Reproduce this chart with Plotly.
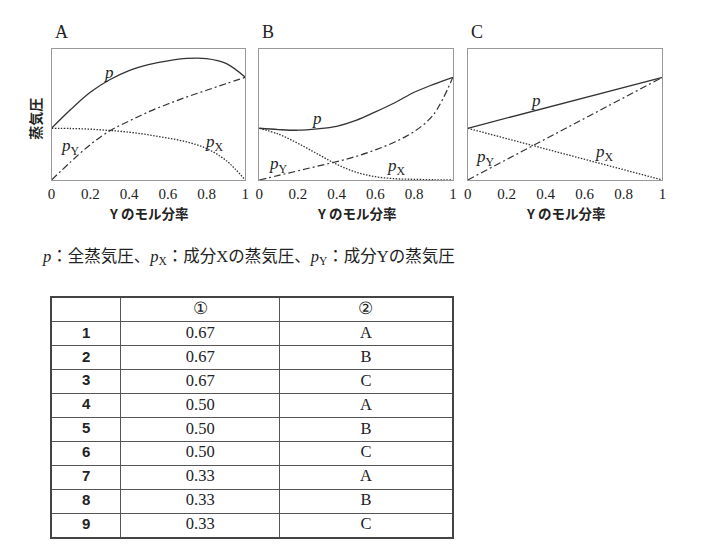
import plotly.graph_objects as go

# ---- data ----
x_grid = [0, 0.1, 0.2, 0.3, 0.4, 0.5, 0.6, 0.7, 0.8, 0.9, 1.0]

p_A  = [0.395, 0.54, 0.67, 0.765, 0.835, 0.88, 0.91, 0.928, 0.927, 0.89, 0.784]
pX_A = [0.395, 0.393, 0.388, 0.378, 0.365, 0.345, 0.32, 0.29, 0.24, 0.15, 0.0]
pY_A = [0.0, 0.14, 0.27, 0.375, 0.45, 0.52, 0.58, 0.635, 0.685, 0.735, 0.784]

p_B  = [0.395, 0.385, 0.38, 0.39, 0.41, 0.455, 0.52, 0.59, 0.67, 0.73, 0.784]
pX_B = [0.395, 0.35, 0.28, 0.20, 0.12, 0.06, 0.025, 0.01, 0.005, 0.002, 0.0]
pY_B = [0.0, 0.035, 0.07, 0.105, 0.14, 0.18, 0.23, 0.29, 0.37, 0.50, 0.784]

x_lin = [0, 1]
p_C  = [0.395, 0.784]
pX_C = [0.395, 0.0]
pY_C = [0.0, 0.784]

tick_vals = [0, 0.2, 0.4, 0.6, 0.8, 1]
tick_text = ["0", "0.2", "0.4", "0.6", "0.8", "1"]

panel_names = ["A", "B", "C"]

table_nums = ["1", "2", "3", "4", "5", "6", "7", "8", "9"]
table_col1 = ["0.67", "0.67", "0.67", "0.50", "0.50", "0.50", "0.33", "0.33", "0.33"]
table_col2 = ["A", "B", "C", "A", "B", "C", "A", "B", "C"]
table_header = ["", "①", "②"]

# ---- layout helpers (page body adds an 8px margin) ----
OFF = 8
W, H = 708 - OFF, 548 - OFF

def px(x):
    return (x - OFF) / W

def py(y):
    return 1 - (y - OFF) / H

boxes = [(48, 244), (258, 454), (469, 666)]
y_top, y_bot = 49, 180

fig = go.Figure()
serif = "Liberation Serif"
cjk = "Noto Sans CJK JP"
line_col = "#333333"
text_col = "#222222"

panels = [
    (x_grid, p_A, pX_A, pY_A, "spline"),
    (x_grid, p_B, pX_B, pY_B, "spline"),
    (x_lin, p_C, pX_C, pY_C, "linear"),
]

label_pos = [
    [(0.296, 0.817), (0.84, 0.28), (0.097, 0.25)],
    [(0.30, 0.466), (0.71, 0.10), (0.10, 0.115)],
    [(0.35, 0.61), (0.70, 0.206), (0.09, 0.17)],
]
label_txt = ["<i>p</i>", "<i>p</i><sub>X</sub>", "<i>p</i><sub>Y</sub>"]

for i, (xs, p, pX, pY, shape) in enumerate(panels):
    n = "" if i == 0 else str(i + 1)
    xa, ya = "x" + n, "y" + n
    fig.add_trace(go.Scatter(x=xs, y=p, mode="lines", xaxis=xa, yaxis=ya, hoverinfo="skip",
                             line=dict(color=line_col, width=1.3, shape=shape), showlegend=False))
    fig.add_trace(go.Scatter(x=xs, y=pX, mode="lines", xaxis=xa, yaxis=ya, hoverinfo="skip",
                             line=dict(color=line_col, width=1.3, shape=shape, dash="1.5px,1.5px"),
                             showlegend=False))
    fig.add_trace(go.Scatter(x=xs, y=pY, mode="lines", xaxis=xa, yaxis=ya, hoverinfo="skip",
                             line=dict(color=line_col, width=1.2, shape=shape, dash="7px,3px,2px,3px"),
                             showlegend=False))
    x0, x1 = boxes[i]
    axis_common = dict(showline=True, mirror=True, linecolor="#999999", linewidth=1,
                       showgrid=False, zeroline=False, ticks="")
    fig.layout["xaxis" + n] = dict(domain=[px(x0), px(x1)], range=[0, 1], anchor=ya,
                                   tickvals=tick_vals, ticktext=tick_text,
                                   tickfont=dict(family=serif, size=15, color=text_col),
                                   **axis_common)
    fig.layout["yaxis" + n] = dict(domain=[py(y_bot), py(y_top)], range=[0, 1], anchor=xa,
                                   showticklabels=False, **axis_common)
    for (lx, ly), t in zip(label_pos[i], label_txt):
        fig.add_annotation(x=lx, y=ly, xref=xa, yref=ya, text=t, showarrow=False,
                           xanchor="center", yanchor="middle",
                           font=dict(family=serif, size=17, color=text_col))
    fig.add_annotation(x=px((x0 + x1) / 2), y=py(213), xref="paper", yref="paper",
                       xanchor="center", yanchor="middle",
                       text="<b>Y のモル分率</b>", showarrow=False,
                       font=dict(family=cjk, size=13.5, color=text_col))
    fig.add_annotation(x=px(x0 + 1), y=py(32), xref="paper", yref="paper",
                       xanchor="left", yanchor="middle",
                       text=panel_names[i], showarrow=False,
                       font=dict(family=serif, size=18, color=text_col))

fig.add_annotation(x=px(31), y=py(119), xref="paper", yref="paper", text="<b>蒸気圧</b>",
                   textangle=-90, showarrow=False, xanchor="center", yanchor="middle",
                   font=dict(family=cjk, size=14, color=text_col))

fig.add_annotation(x=px(36), y=py(257), xref="paper", yref="paper",
                   xanchor="left", yanchor="middle",
                   text="<i>p</i>：全蒸気圧、<i>p</i><sub>X</sub>：成分Xの蒸気圧、<i>p</i><sub>Y</sub>：成分Yの蒸気圧",
                   showarrow=False,
                   font=dict(family=serif + ", " + cjk, size=16.5, color=text_col))

# ---- table drawn on its own axes ----
col_edges = [0, 70, 231, 405]
col_centers = [(col_edges[k] + col_edges[k + 1]) / 2 for k in range(3)]
n_rows = len(table_nums) + 1
row_centers = [r + 0.5 for r in range(1, n_rows)]

fig.layout["xaxis4"] = dict(domain=[px(48), px(453)], range=[0, col_edges[-1]], anchor="y4",
                            showline=True, mirror=True, linecolor="#444444", linewidth=2,
                            showgrid=True, gridcolor="#555555", gridwidth=1,
                            tickvals=col_edges[1:-1], showticklabels=False, ticks="",
                            zeroline=False, fixedrange=True)
fig.layout["yaxis4"] = dict(domain=[py(537), py(298)], range=[n_rows, 0], anchor="x4",
                            showline=True, mirror=True, linecolor="#444444", linewidth=2,
                            showgrid=True, gridcolor="#555555", gridwidth=1,
                            tickvals=list(range(1, n_rows)), showticklabels=False, ticks="",
                            zeroline=False, fixedrange=True)

fig.add_trace(go.Scatter(x=col_centers[1:], y=[0.5, 0.5], text=table_header[1:], mode="text",
                         xaxis="x4", yaxis="y4", showlegend=False, hoverinfo="skip",
                         textfont=dict(family=serif, size=17, color=text_col)))
fig.add_trace(go.Scatter(x=[col_centers[0]] * len(table_nums), y=row_centers,
                         text=["<b>" + s + "</b>" for s in table_nums], mode="text",
                         xaxis="x4", yaxis="y4", showlegend=False, hoverinfo="skip",
                         textfont=dict(family="Liberation Sans", size=15, color=text_col)))
fig.add_trace(go.Scatter(x=[col_centers[1]] * len(table_col1), y=row_centers,
                         text=table_col1, mode="text",
                         xaxis="x4", yaxis="y4", showlegend=False, hoverinfo="skip",
                         textfont=dict(family=serif, size=16.5, color=text_col)))
fig.add_trace(go.Scatter(x=[col_centers[2]] * len(table_col2), y=row_centers,
                         text=table_col2, mode="text",
                         xaxis="x4", yaxis="y4", showlegend=False, hoverinfo="skip",
                         textfont=dict(family=serif, size=16.5, color=text_col)))

fig.update_layout(width=W, height=H, margin=dict(l=0, r=0, t=0, b=0),
                  paper_bgcolor="white", plot_bgcolor="white")

fig.write_html("out.html")
